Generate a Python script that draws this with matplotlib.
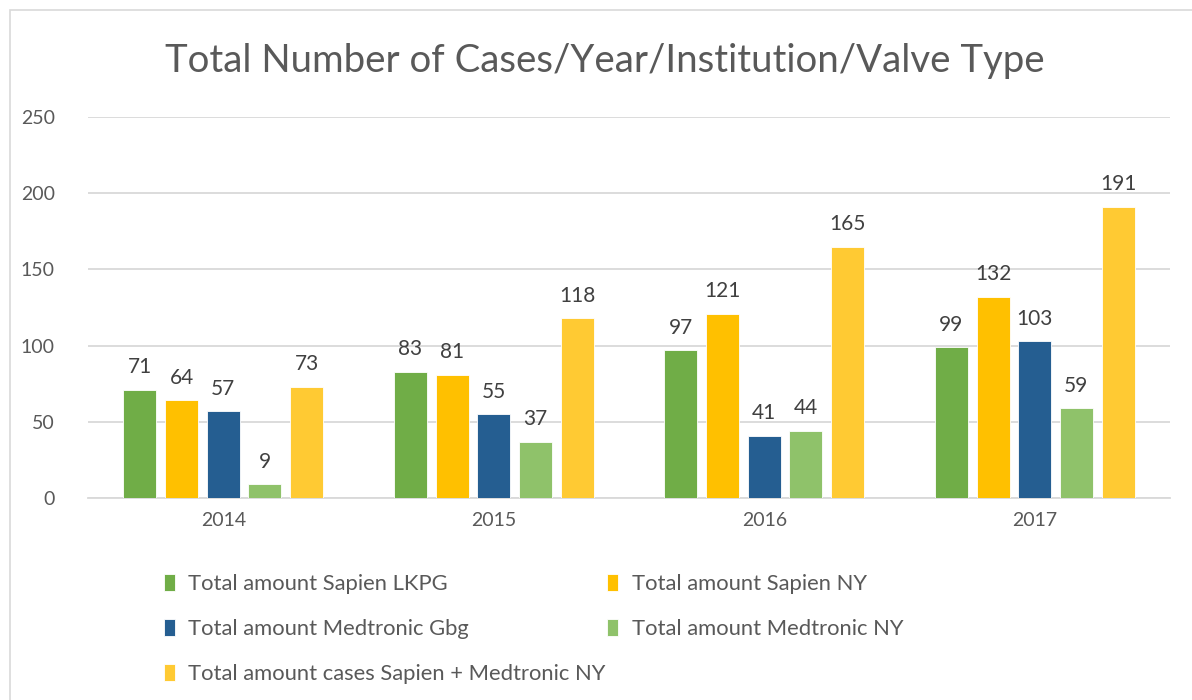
import matplotlib.pyplot as plt
import numpy as np
from matplotlib.patches import Rectangle

years = ["2014", "2015", "2016", "2017"]
series_names = [
    "Total amount Sapien LKPG",
    "Total amount Sapien NY",
    "Total amount Medtronic Gbg",
    "Total amount Medtronic NY",
    "Total amount cases Sapien + Medtronic NY",
]
sapien_lkpg = [71, 83, 97, 99]
sapien_ny = [64, 81, 121, 132]
medtronic_gbg = [57, 55, 41, 103]
medtronic_ny = [9, 37, 44, 59]
cases_ny = [73, 118, 165, 191]

colors = ["#70AD47", "#FFC000", "#255E91", "#8FC26A", "#FFCA33"]
values = [sapien_lkpg, sapien_ny, medtronic_gbg, medtronic_ny, cases_ny]

plt.rcParams['font.family'] = ['Lato', 'DejaVu Sans']

fig = plt.figure(figsize=(11.92, 7), dpi=100)
ax = fig.add_axes([88 / 1192, 1 - 498 / 700, 1082 / 1192, 381 / 700])

# chart border
fig.patches.append(Rectangle((10 / 1192, -0.01), 1.0, 1 - 10 / 700 + 0.01,
                             transform=fig.transFigure, fill=False,
                             edgecolor="#D9D9D9", lw=1.2))

x = np.arange(len(years))
pitch = 0.154
width = 0.122
for i, (name, vals, c) in enumerate(zip(series_names, values, colors)):
    pos = x + (i - 2) * pitch
    bars = ax.bar(pos, vals, width=width, color=c, label=name,
                  edgecolor="white", linewidth=0.6, zorder=3)
    ax.bar_label(bars, padding=9, fontsize=15, color="#404040")

ax.set_xlim(-0.5, 3.5)
ax.set_ylim(0, 250)
ax.set_yticks(range(0, 251, 50))
ax.set_xticks(x)
ax.set_xticklabels(years)
ax.tick_params(axis="both", length=0, labelsize=14, labelcolor="#595959")
ax.tick_params(axis="x", pad=10)
ax.tick_params(axis="y", pad=24)
ax.grid(axis="y", color="#D9D9D9", lw=1.3, zorder=0)
for s in ["top", "right", "left"]:
    ax.spines[s].set_visible(False)
ax.spines["bottom"].set_color("#D9D9D9")
ax.spines["bottom"].set_linewidth(1.3)

fig.text(605 / 1192, 1 - 61 / 700, "Total Number of Cases/Year/Institution/Valve Type",
         ha="center", va="center", fontsize=27.6, color="#595959")

handles, labels = ax.get_legend_handles_labels()
order = [0, 2, 4, 1, 3]
fig.legend([handles[k] for k in order], [labels[k] for k in order],
           ncol=2, loc="upper left", bbox_to_anchor=(155 / 1192, 1 - 565 / 700),
           frameon=False, fontsize=15.8, labelcolor="#595959",
           handlelength=0.5, handleheight=0.8, handletextpad=0.6,
           columnspacing=0.1, labelspacing=1.15, borderaxespad=0)

fig.savefig("out.png", dpi=100)
